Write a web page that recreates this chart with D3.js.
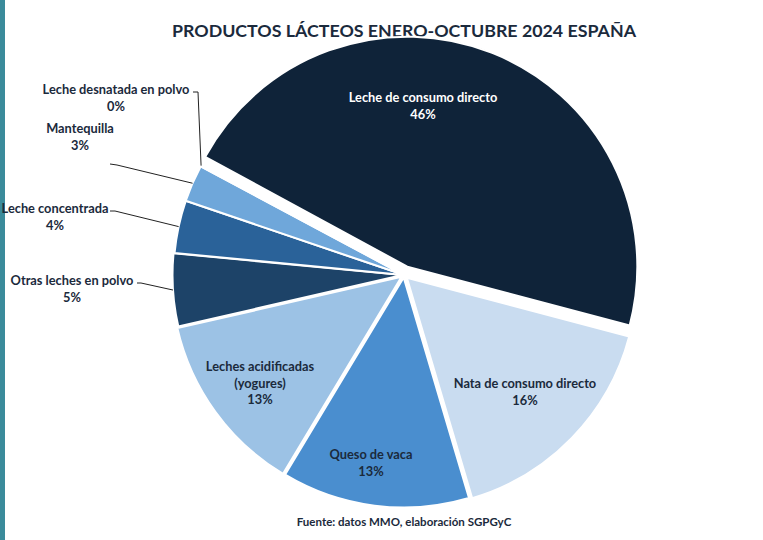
<!DOCTYPE html>
<html>
<head>
<meta charset="utf-8">
<script src="https://cdn.jsdelivr.net/npm/d3@7"></script>
<style>
  body { margin: 0; background: #fff; }
  svg { display: block; font-family: Lato, "Open Sans", sans-serif; }
</style>
</head>
<body>
<div id="chart"></div>
<script>
// data (percent share)
var categories = ["Leche de consumo directo", "Nata de consumo directo", "Queso de vaca",
  "Leches acidificadas (yogures)", "Otras leches en polvo", "Leche concentrada",
  "Mantequilla", "Leche desnatada en polvo"];
var values = [46.2, 16.3, 13.2, 12.8, 5.1, 3.7, 2.6, 0.1];
var colors = ["#0f2339", "#c9dcf0", "#4a8ecf", "#9cc2e5", "#1d4368", "#2a6299", "#6fa7da", "#ddebf7"];
var explode = [9, 4, 2.5, 3, 1.5, 0.5, 0.5, 0.5];

var title = "PRODUCTOS LÁCTEOS ENERO-OCTUBRE 2024 ESPAÑA";
var source = "Fuente: datos MMO, elaboración SGPGyC";

// label layout: lines, anchor point, text colour, optional leader elbow
var labelLayout = [
  {lines: ["Leche de consumo directo"], x: 423, y: 98, fill: "#ffffff"},
  {lines: ["Nata de consumo directo"], x: 525, y: 384, fill: "#1b2a3c"},
  {lines: ["Queso de vaca"], x: 371, y: 455, fill: "#1b2a3c"},
  {lines: ["Leches acidificadas", "(yogures)"], x: 260, y: 367, fill: "#1b2a3c"},
  {lines: ["Otras leches en polvo"], x: 72, y: 281, fill: "#1b2a3c", leader: [[137, 283], [141, 283]]},
  {lines: ["Leche concentrada"], x: 55, y: 209, fill: "#1b2a3c", leader: [[110, 211], [115, 211]]},
  {lines: ["Mantequilla"], x: 80, y: 129, fill: "#1b2a3c", leader: [[110, 164], [117, 165]]},
  {lines: ["Leche desnatada en polvo"], x: 116, y: 90, fill: "#1b2a3c", leader: [[193, 92], [198, 92]]}
];

var width = 763, height = 540;
var cx = 404, cy = 275, radius = 230;
var startAngle = -61.5 * Math.PI / 180;
var lineH = 16.3;

var svg = d3.select("#chart").append("svg")
  .attr("width", width)
  .attr("height", height);

// teal bar at the left edge
svg.append("rect")
  .attr("x", 0).attr("y", 0)
  .attr("width", 5).attr("height", height)
  .attr("fill", "#3b8b9b");

svg.append("text")
  .attr("x", 404).attr("y", 37)
  .attr("text-anchor", "middle")
  .attr("font-size", 17.8)
  .attr("font-weight", 700)
  .attr("fill", "#1b2a3c")
  .text(title);

var data = categories.map(function(c, i) { return {name: c, value: values[i], i: i}; });

var pie = d3.pie()
  .sort(null)
  .value(function(d) { return d.value; })
  .startAngle(startAngle)
  .endAngle(startAngle + 2 * Math.PI);

var arc = d3.arc().innerRadius(0).outerRadius(radius);
var arcs = pie(data);

function offset(d) {
  var a = (d.startAngle + d.endAngle) / 2;
  var e = explode[d.data.i];
  return [Math.sin(a) * e, -Math.cos(a) * e];
}

var g = svg.append("g").attr("transform", "translate(" + cx + "," + cy + ")");

g.selectAll(".slice")
  .data(arcs)
  .enter().append("path")
  .attr("class", "slice")
  .attr("transform", function(d) { var o = offset(d); return "translate(" + o[0] + "," + o[1] + ")"; })
  .attr("d", arc)
  .attr("fill", function(d) { return colors[d.data.i]; })
  .attr("stroke", "#ffffff")
  .attr("stroke-width", 2)
  .attr("stroke-linejoin", "round");

// leader lines: from label elbow to the outer edge at the slice middle
arcs.forEach(function(d) {
  var L = labelLayout[d.data.i];
  if (!L.leader) return;
  var a = (d.startAngle + d.endAngle) / 2;
  var o = offset(d);
  var end = [cx + o[0] + Math.sin(a) * radius, cy + o[1] - Math.cos(a) * radius];
  var pts = L.leader.concat([end]);
  svg.append("path")
    .attr("d", d3.line()(pts))
    .attr("fill", "none")
    .attr("stroke", "#222")
    .attr("stroke-width", 1);
});

// labels
var fmt = d3.format(".0f");
var total = d3.sum(values);
arcs.forEach(function(d) {
  var L = labelLayout[d.data.i];
  var lines = L.lines.concat([fmt(d.data.value / total * 100) + "%"]);
  var t = svg.append("text")
    .attr("text-anchor", "middle")
    .attr("font-size", 12.8)
    .attr("font-weight", 700)
    .attr("fill", L.fill);
  lines.forEach(function(s, k) {
    t.append("tspan")
      .attr("x", L.x)
      .attr("y", L.y + k * lineH)
      .attr("dy", "0.35em")
      .text(s);
  });
});

svg.append("text")
  .attr("x", 404).attr("y", 522)
  .attr("dy", "0.35em")
  .attr("text-anchor", "middle")
  .attr("font-size", 11.5)
  .attr("font-weight", 700)
  .attr("fill", "#1b2a3c")
  .text(source);
</script>
</body>
</html>
